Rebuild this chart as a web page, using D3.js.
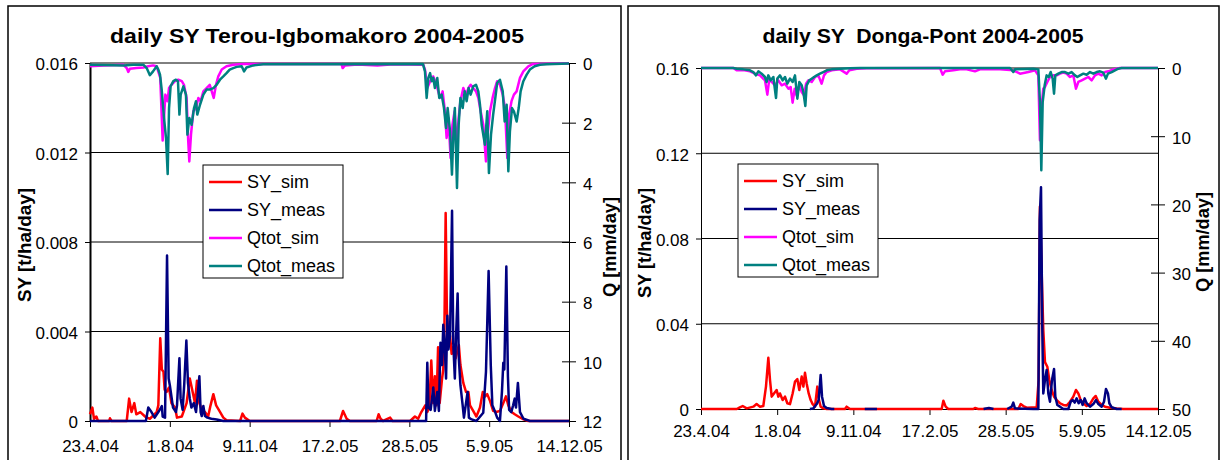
<!DOCTYPE html>
<html>
<head>
<meta charset="utf-8">
<script src="https://cdn.jsdelivr.net/npm/d3@7"></script>
<style>
    body { margin: 0; background: #fff; }
    svg text { font-family: "Liberation Sans", Arial, sans-serif; fill: #000; }
</style>
</head>
<body>
<svg id="chart" width="1224" height="460"></svg>
<script>
// x positions are days counted from 23.4.04
const xTickDays = [0, 100, 200, 300, 400, 500, 600];
const xTickLabels = ["23.4.04", "1.8.04", "9.11.04", "17.2.05", "28.5.05", "5.9.05", "14.12.05"];
const seriesNames = ["SY_sim", "SY_meas", "Qtot_sim", "Qtot_meas"];
const seriesColors = ["#ff0000", "#000080", "#ff00ff", "#008080"];

// Terou-Igbomakoro, SY in t/ha/day
const terouSySim = [[0,0.0003],[3,0.0006],[5,0.0001],[8,0.0002],[10,0],[24,0],[25,0.00012],[27,0],[46,0],[49,0.001],[52,0.0004],[55.5,0.0008],[58,0.0003],[63,0.0004],[69,0.0002],[75,0.0001],[83.5,0.0004],[85.6,0.0007],[88,0.0037],[90,0.0023],[92,0.0022],[93.5,0.0014],[96,0.0013],[99,0.0015],[102,0.0008],[106.5,0.0006],[109,0.00015],[115,0.0002],[121,0.0008],[125,0.0019],[128,0.0014],[131.5,0.0008],[134,0.0018],[137,0.0008],[140,0.0005],[144,0.0004],[148,0.0002],[151,0.0007],[154.5,0.0012],[158,0.0007],[163,0.0004],[167,0.00015],[171,0.00003],[188,0],[191,0.00033],[194,0.00015],[200,0],[313,0],[317,0.00045],[321.5,0.0001],[325.6,0],[359,0],[361.5,0.0003],[364,0.0001],[367,0],[376,0.00015],[379,0],[401,0],[407,0.0002],[411,0.0001],[415,0.0004],[420,0.0007],[422.5,0.0004],[425,0.0006],[427.5,0.0027],[430,0.0008],[432,0.002],[434,0.0007],[436,0.0033],[438,0.0008],[441,0.0019],[442.5,0.0023],[444,0.0043],[445.5,0.0093],[447,0.005],[449,0.0035],[451,0.0038],[453,0.003],[455,0.0033],[458,0.0028],[462,0.0034],[464,0.0025],[467.6,0.0017],[471,0.0013],[474,0.0013],[476,0.0007],[480,0.00045],[484,0.0002],[488.5,0.0006],[492,0.0013],[495,0.0011],[497.6,0.0012],[501,0.0009],[505,0.00045],[509,0.0004],[513.5,0.00045],[517.7,0.0008],[521,0.0011],[524,0.0007],[528,0.0004],[532,0.0003],[536.5,0.0002],[543,0.00007],[549,0],[600,0]];
const terouSyMeas = [[0,0],[70,0],[73,0.0006],[77,0.0004],[81,0.00015],[85.6,0.0004],[90,0.00067],[91,0.0002],[94,0.00015],[96.5,0.0074],[98.5,0.0019],[100,0.0016],[102,0.0011],[104,0.0006],[107.7,0.0004],[109,0.0007],[112,0.0028],[113.5,0.001],[116,0.0005],[118,0.0016],[120.7,0.0036],[122.7,0.0017],[125,0.001],[127,0.0006],[130,0.0008],[132.8,0.0004],[134.5,0.001],[137,0.002],[138.6,0.0004],[140,0.00022],[142,0.00067],[144,0.00022],[147,0.00015],[152,0.0001],[158.6,0.00007],[167,0],[419.6,0],[421,0],[422.5,0.0026],[424,0.0006],[426.7,0.0005],[430,0.0015],[432,0.00045],[435,0.0013],[437,0.00045],[439,0.0035],[441,0.0025],[442.5,0.0043],[444,0.0036],[446,0.0019],[447.6,0.0047],[449,0.0032],[451,0.0038],[453.5,0.0094],[455,0.0035],[457,0.0019],[458.4,0.0037],[460.5,0.0057],[462,0.0028],[464,0.0016],[466.8,0.0007],[468.4,0.00015],[473,0.0013],[474.6,0.00015],[478,0.00007],[484,0],[492.6,0.00037],[496,0.0022],[499.3,0.0067],[502,0.0025],[504,0.0007],[507,0.00045],[510,0.00015],[513.5,0],[516,0.0013],[517.7,0.0026],[519,0.0023],[521.5,0.0069],[523.5,0.002],[525,0.0005],[527.7,0.0004],[530,0.0007],[532,0.001],[533.6,0.0006],[536,0.0017],[538.6,0.0004],[543,0.0001],[551,0],[600,0]];
// Terou-Igbomakoro, Q in mm/day
const terouQSim = [[0,0.11],[17,0.08],[42,0.06],[46,0.17],[48,0.3],[50,0.19],[58,0.17],[67,0.15],[73,0.11],[79,0.08],[83.5,0.11],[88,0.5],[91,2.6],[92.7,1.84],[94.4,1.06],[97,1.28],[99,0.84],[102,0.73],[106.5,0.61],[110.6,0.56],[115,0.61],[117.7,0.73],[121,1.17],[123,2.6],[124.4,3.3],[126.5,2.4],[129.4,1.62],[132.8,1.51],[135.7,1.17],[138.6,1.28],[142,0.95],[146,0.84],[150,0.73],[155,1.17],[157.8,0.73],[160.7,0.45],[165,0.22],[171,0.11],[179.5,0.06],[192,0.03],[315,0.03],[316.5,0.17],[319.4,0.08],[335,0.05],[360,0.08],[380,0.04],[400,0.05],[417.5,0.06],[419.6,0.22],[422.5,0.84],[426,0.61],[430,0.45],[434,0.73],[438.4,1.17],[441.7,0.95],[444.6,1.62],[446.7,2.51],[449,1.84],[451.7,3.18],[454,2.07],[456.7,1.62],[459,2.85],[461.8,1.84],[464,1.28],[467.6,0.84],[471,1.06],[474,0.84],[476.8,0.73],[480,0.84],[483.5,0.95],[486.4,1.17],[489.3,1.62],[492.6,2.07],[496,3.3],[498.5,2.29],[501,1.62],[504.3,1.17],[507.3,0.84],[510,0.61],[513.5,0.73],[517,1.06],[519.8,1.51],[522.7,3.18],[525,1.73],[528,1.28],[531,1.06],[534.4,0.95],[538.6,0.5],[542.8,0.28],[549,0.11],[555,0.03],[600,0.02]];
const terouQMeas = [[0,0.06],[42,0.08],[54,0.06],[67,0.06],[71,0.17],[75,0.41],[79,0.28],[83.5,0.11],[85.6,0.22],[87.7,0.39],[89.8,0.89],[92.7,1.84],[95.2,2.51],[97.3,3.72],[99,1.51],[101,0.78],[104.4,0.61],[107.7,0.56],[110.2,0.61],[112,1.73],[113.6,1.06],[117,0.78],[120.2,1.06],[122,2.4],[124.4,1.84],[127.3,2.07],[130.3,1.51],[132.8,1.28],[134.4,1.73],[137.8,1.4],[142,1.06],[146,0.89],[150,0.89],[154.5,0.84],[158.6,0.73],[162.8,0.56],[167,0.45],[171,0.34],[175,0.22],[179.5,0.17],[183.7,0.13],[190,0.11],[193,0.28],[196,0.15],[204.6,0.08],[217,0.04],[417,0.03],[419.6,0.28],[421.7,1.17],[423.8,0.5],[426,0.34],[428,0.61],[430,0.5],[432,0.84],[435,0.5],[437.5,1.17],[440.5,1.06],[443.4,1.51],[446,2.18],[448,1.51],[451,2.29],[453.4,3.74],[455,2.51],[457,1.51],[459.7,4.19],[461.8,2.07],[464,1.17],[466.8,1.51],[469.3,0.95],[471.8,1.28],[474.3,0.84],[476.8,1.06],[480,0.78],[483.5,0.73],[486.4,0.95],[488.5,1.4],[490.6,2.07],[494.7,2.74],[497.6,1.62],[499.7,3.69],[502.3,2.4],[505,1.73],[507.7,1.17],[510,0.67],[513.5,0.56],[517,0.95],[519.4,1.96],[521.9,1.4],[524,3.63],[526,2.29],[528.6,1.51],[531,1.62],[534.4,1.96],[537,1.51],[539.4,0.95],[542.8,0.61],[547,0.39],[551,0.22],[557,0.11],[563.6,0.06],[572,0.04],[600,0.02]];

// Donga-Pont, SY in t/ha/day (null = no measurement)
const dongaSySim = [[0,0],[47,0],[51,0.0008],[54.7,0.0014],[60,0.0003],[68.7,0.0011],[73,0.0023],[77.5,0.0011],[81.8,0.0014],[85.3,0.0105],[88.4,0.024],[90.6,0.0136],[92.8,0.0058],[95.8,0.0073],[99.3,0.0089],[101.5,0.0058],[103.7,0.0073],[107.2,0.0042],[110.3,0.0058],[113.3,0.0027],[116.8,0.0023],[120.3,0.0073],[123.4,0.0128],[126.5,0.014],[129.1,0.0089],[132.2,0.0152],[134.4,0.0105],[136.5,0.017],[138.7,0.012],[141.4,0.0073],[144,0.0042],[146.6,0.0023],[149.7,0.0011],[152.7,0.0105],[154.9,0.0042],[157.1,0.0011],[160.6,0.0003],[165,0],[189,0],[191.2,0.0011],[195.6,0],[316,0],[318.2,0.0039],[321.2,0.0011],[324.7,0],[357.5,0],[359.7,0.0005],[364,0],[416.6,0],[419.7,0.0023],[423.2,0.0014],[427.6,0.0006],[440.7,0.0008],[443.3,0.0136],[445,0.095],[447.3,0.0636],[449.4,0.037],[451.6,0.022],[454.7,0.0198],[457.3,0.0136],[460.4,0.0089],[463.5,0.0058],[467,0.0042],[471.3,0.0027],[475.7,0.0019],[480,0.0016],[484.5,0.0034],[488.8,0.0058],[492.3,0.0089],[495.4,0.0073],[498.5,0.0042],[502,0.0027],[506.3,0.0014],[510.7,0.0023],[515.1,0.005],[518.2,0.0061],[521.7,0.0034],[526,0.0019],[530.4,0.0011],[537,0.0006],[545.7,0.0002],[554.5,0],[600,0]];
const dongaSyMeas = [[143,0],[147.5,0.0003],[151.9,0.0023],[154.5,0.0042],[157.1,0.016],[158.9,0.0058],[161.5,0.0014],[165,0.0005],[171.5,0],[175,0],[176,null],[215,0],[231,0],[232,null],[371,0],[378,0.0005],[384,0],[385,null],[402,0],[407.9,0.0011],[410,0.003],[412.2,0.0003],[436.3,0],[442.9,0],[444.6,0.0886],[446.4,0.104],[448.1,0.037],[449.4,0.0073],[451.6,0.0136],[453.8,0.0183],[456,0.0073],[458.2,0.0034],[460.8,0.0136],[463.5,0.0188],[465.2,0.0058],[467.8,0.0019],[471.3,0.0011],[475.7,0],[482.3,0],[485.3,0.0034],[488,0.0042],[490.6,0.003],[493.2,0.005],[495.8,0.0027],[498.5,0.0042],[501.1,0.0019],[503.7,0.005],[506.3,0.0027],[510.7,0.0011],[515.1,0.0023],[518.6,0.0042],[521.7,0.0023],[526,0.0011],[529.1,0.0034],[531.7,0.0094],[534.3,0.0073],[536.1,0.0027],[539.2,0.0008],[545.7,0],[552.3,0]];
// Donga-Pont, Q in mm/day
const dongaQSim = [[0,0],[42.5,0],[46.8,0.34],[55.6,0.29],[64.3,0.49],[70.9,0.83],[77.5,1.08],[84,1.81],[87.1,3.91],[89.7,1.56],[92.8,2.05],[97.2,2.54],[101.5,1.81],[105.9,2.54],[110.3,2.3],[114.7,3.03],[117.7,2.79],[120.3,5.08],[123,3.03],[125.6,4.01],[129.1,2.54],[132.2,3.52],[135.2,4.01],[137.9,2.3],[141,1.81],[145.3,2.05],[149.7,1.32],[154,1.08],[158.4,2.3],[161.5,1.08],[165,0.59],[171.6,0.34],[182.5,0.2],[191.2,0.83],[194.7,0.34],[204.4,0.1],[217.5,0.05],[313.8,0],[317.3,0.98],[320.3,0.49],[331.3,0.34],[340,0.2],[348.8,0.2],[359.7,0.49],[366.3,0.2],[392.6,0.2],[410,0.34],[418.8,0.83],[429.8,0.59],[438.5,0.34],[442.9,1.08],[445,10.6],[447.3,5.47],[449.4,3.03],[451.6,2.79],[454.7,2.05],[458.2,1.32],[462.6,1.08],[467,1.08],[471.3,0.83],[475.7,0.68],[480,0.83],[484.5,1.32],[488.8,1.08],[492.3,3.03],[495.4,2.05],[499.8,1.81],[504.2,1.56],[508.5,1.32],[512.9,1.81],[517.3,1.08],[521.7,0.83],[526,1.08],[530.4,0.59],[534.8,0.49],[541.3,0.2],[550,0],[600,0]];
const dongaQMeas = [[0,0],[42.5,0],[46.8,0.1],[55.6,0.2],[64.3,0.34],[68.7,0.59],[72.2,1.08],[75.3,0.49],[79.6,0.83],[84,1.32],[86.2,2.05],[88.4,1.08],[91.5,1.81],[95,1.32],[98.5,4.4],[100.2,1.56],[103.7,1.08],[107.2,1.81],[110.3,1.32],[113.3,2.3],[116.8,1.56],[120.3,2.05],[123.4,1.08],[126.5,4.5],[129.1,2.05],[132.2,2.54],[134.4,3.52],[137,5.57],[138.7,2.54],[142.2,1.81],[145.3,1.56],[148.4,1.32],[151.9,1.08],[156.2,0.83],[160.6,0.59],[165,0.34],[171.6,0.2],[182.5,0.1],[195.6,0.05],[208.7,0],[405.7,0],[410,0.59],[412.2,0.2],[436.3,0.1],[442.9,0.2],[445,4.99],[446.8,15.0],[448.6,4.99],[451.2,2.54],[453.8,1.08],[456.5,1.32],[459.1,0.59],[461.7,1.56],[463.5,3.76],[465.2,1.08],[469.1,0.83],[473.5,0.59],[477.9,0.59],[482.3,0.83],[486.6,0.59],[491,1.08],[494.1,1.32],[497.6,1.08],[502,0.83],[506.3,0.98],[510.7,0.59],[515.1,0.83],[519.5,0.59],[523.8,0.49],[528.2,0.68],[531.7,1.56],[534.3,0.83],[539.2,0.59],[543.5,0.34],[547.9,0.1],[552.3,0],[600,0]];

const svg = d3.select("#chart");

function drawPanel(p) {
    const g = svg.append("g");

    g.append("rect")
        .attr("x", p.box[0]).attr("y", p.box[1])
        .attr("width", p.box[2]).attr("height", p.box[3])
        .attr("fill", "#fff").attr("stroke", "#000").attr("stroke-width", 1.5);

    const x = d3.scaleLinear().domain([0, 600]).range([p.left, p.right]);
    const ySY = d3.scaleLinear().domain([0, p.syMax]).range([p.bottom, p.top]);
    const yQ = d3.scaleLinear().domain([0, p.qMax]).range([p.top, p.bottom]);

    // horizontal gridlines
    g.selectAll(".grid")
        .data(p.syTicks.filter(d => d > 0))
        .enter().append("line")
        .attr("x1", p.left).attr("x2", p.right)
        .attr("y1", d => ySY(d)).attr("y2", d => ySY(d))
        .attr("stroke", "#000").attr("stroke-width", 1);

    // axes
    const fmt = d => d === 0 ? "0" : d3.format(p.syFmt)(d);
    const axL = g.append("g")
        .attr("transform", `translate(${p.left},0)`)
        .call(d3.axisLeft(ySY).tickValues(p.syTicks).tickFormat(fmt).tickSizeInner(5).tickSizeOuter(0).tickPadding(7));
    const axR = g.append("g")
        .attr("transform", `translate(${p.right},0)`)
        .call(d3.axisRight(yQ).tickValues(p.qTicks).tickSizeInner(7).tickSizeOuter(0).tickPadding(7));
    axR.selectAll(".tick line").attr("x1", -7);
    const axB = g.append("g")
        .attr("transform", `translate(0,${p.bottom})`)
        .call(d3.axisBottom(x).tickValues(xTickDays).tickFormat((d, i) => xTickLabels[i]).tickSizeInner(6).tickSizeOuter(0).tickPadding(p.xPad));
    [axL, axR, axB].forEach(a => {
        a.attr("font-family", null).attr("font-size", null);
        a.selectAll("text").style("font-size", "17px");
        a.selectAll("line").attr("stroke", "#000");
        a.select(".domain").attr("stroke", "#000");
    });
    axL.select(".domain").attr("stroke-width", p.leftAxisW);
    axL.selectAll("text").attr("dy", "0.4em");
    axR.selectAll("text").attr("dy", "0.4em");

    // series
    const lineSY = d3.line().defined(d => d[1] != null).x(d => x(d[0])).y(d => ySY(d[1]));
    const lineQ = d3.line().defined(d => d[1] != null).x(d => x(d[0])).y(d => yQ(d[1]));
    const series = [
        [p.sySim, lineSY], [p.syMeas, lineSY], [p.qSim, lineQ], [p.qMeas, lineQ]
    ];
    series.forEach((s, i) => {
        g.append("path")
            .datum(s[0])
            .attr("d", s[1])
            .attr("fill", "none")
            .attr("stroke", seriesColors[i])
            .attr("stroke-width", 2.5)
            .attr("stroke-linejoin", "round");
    });

    // title
    g.append("text")
        .attr("x", p.title[1]).attr("y", 43)
        .attr("text-anchor", "middle")
        .attr("textLength", p.title[2]).attr("lengthAdjust", "spacingAndGlyphs")
        .style("font-size", "21px").style("font-weight", "bold").style("white-space", "pre")
        .text(p.title[0]);

    // axis titles
    [["SY [t/ha/day]", p.syLabel], ["Q [mm/day]", p.qLabel]].forEach(t => {
        g.append("text")
            .attr("transform", `translate(${t[1][0]},${t[1][1]}) rotate(-90)`)
            .attr("text-anchor", "middle").attr("dy", "0.35em")
            .attr("textLength", t[1][2]).attr("lengthAdjust", "spacingAndGlyphs")
            .style("font-size", "18px").style("font-weight", "bold")
            .text(t[0]);
    });

    // legend
    const lg = g.append("g").attr("transform", `translate(${p.legend[0]},${p.legend[1]})`);
    lg.append("rect").attr("width", 140).attr("height", 113)
        .attr("fill", "#fff").attr("stroke", "#000").attr("stroke-width", 1);
    seriesNames.forEach((n, i) => {
        const yy = 17 + i * 28;
        lg.append("line").attr("x1", 6).attr("x2", 39).attr("y1", yy).attr("y2", yy)
            .attr("stroke", seriesColors[i]).attr("stroke-width", 2.5);
        lg.append("text").attr("x", 44).attr("y", yy).attr("dy", "0.36em")
            .style("font-size", "18px").text(n);
    });
}

drawPanel({
    box: [8, 6, 613, 470],
    left: 90, right: 569, top: 63, bottom: 421,
    syMax: 0.016, syTicks: [0, 0.004, 0.008, 0.012, 0.016], syFmt: ".3f",
    qMax: 12, qTicks: [0, 2, 4, 6, 8, 10, 12],
    leftAxisW: 2, xPad: 13,
    sySim: terouSySim, syMeas: terouSyMeas, qSim: terouQSim, qMeas: terouQMeas,
    title: ["daily SY Terou-Igbomakoro 2004-2005", 317, 414],
    syLabel: [25, 245, 114], qLabel: [610, 247, 100],
    legend: [203, 165]
});

drawPanel({
    box: [628, 6, 591, 470],
    left: 701, right: 1158, top: 68, bottom: 409,
    syMax: 0.16, syTicks: [0, 0.04, 0.08, 0.12, 0.16], syFmt: ".2f",
    qMax: 50, qTicks: [0, 10, 20, 30, 40, 50],
    leftAxisW: 1, xPad: 10,
    sySim: dongaSySim, syMeas: dongaSyMeas, qSim: dongaQSim, qMeas: dongaQMeas,
    title: ["daily SY  Donga-Pont 2004-2005", 923, 321],
    syLabel: [645, 243, 110], qLabel: [1203, 242, 100],
    legend: [738, 164]
});
</script>
</body>
</html>
